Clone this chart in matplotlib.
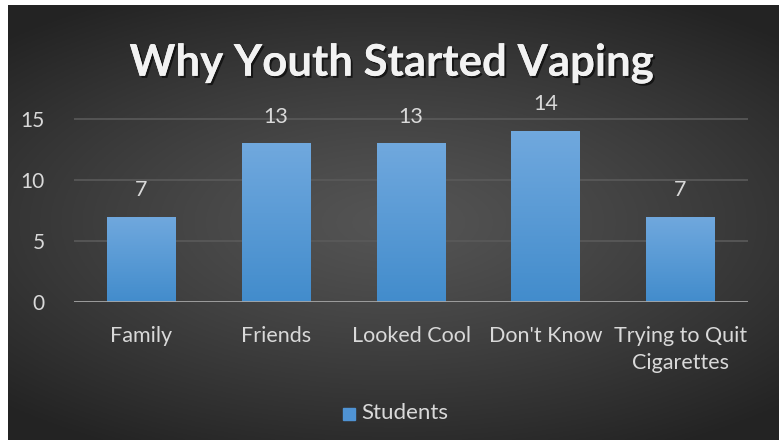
import numpy as np
import matplotlib
matplotlib.use('Agg')
import matplotlib.pyplot as plt
import matplotlib.patheffects as pe
from matplotlib.patches import Rectangle

# data
categories = ['Family', 'Friends', 'Looked Cool', "Don't Know", 'Trying to Quit\nCigarettes']
students = [7, 13, 13, 14, 7]
yticks = [0, 5, 10, 15]

plt.rcParams['font.family'] = ['Lato', 'DejaVu Sans']
txt_col = '#d9d9d9'

fig = plt.figure(figsize=(7.83, 4.45), dpi=100)
fig.patch.set_facecolor('white')

# dark radial gradient background
bg = fig.add_axes([8 / 783, 5 / 445, 770 / 783, 435 / 445])
bg.set_axis_off()
xx, yy = np.meshgrid(np.linspace(-1, 1, 400), np.linspace(-1, 1, 240))
r = np.clip(np.sqrt((xx * 0.9) ** 2 + (yy * 1.1) ** 2), 0, 1.3)
shade = 0.33 - 0.19 * (r / 1.3) ** 1.2
bg.imshow(np.dstack([shade] * 3), aspect='auto', extent=[0, 1, 0, 1])
bg.set_xlim(0, 1)
bg.set_ylim(0, 1)

ax = fig.add_axes([74 / 783, 1 - 302 / 445, 674 / 783, (302 - 102) / 445])
ax.patch.set_alpha(0)
x = np.arange(len(categories))
bars = ax.bar(x, students, width=0.51, color='#4f93d4', zorder=3)

# vertical gradient on each bar
grad = np.linspace(0, 1, 100).reshape(-1, 1)
top = np.array([0.44, 0.66, 0.87])
bot = np.array([0.26, 0.55, 0.80])
img = bot + (top - bot) * grad[..., None]
img = img.reshape(100, 1, 3)
for b in bars:
    x0, y0 = b.get_x(), b.get_y()
    w, h = b.get_width(), b.get_height()
    im = ax.imshow(img, extent=[x0, x0 + w, y0, y0 + h], origin='lower',
                   aspect='auto', zorder=4)
    im.set_clip_path(b)
    ax.text(x0 + w / 2, h + 2.2, str(int(h)), ha='center', va='center',
            color=txt_col, fontsize=15.5)

ax.set_xlim(-0.5, len(categories) - 0.5)
ax.set_ylim(0, 16.4)
ax.set_yticks(yticks)
ax.set_yticklabels([str(v) for v in yticks], color=txt_col, fontsize=15)
ax.set_xticks(x)
ax.set_xticklabels(categories, color=txt_col, fontsize=15.5, linespacing=1.45)
ax.tick_params(length=0, pad=17)
ax.tick_params(axis='y', pad=21)
for v in yticks[1:]:
    ax.axhline(v, color='#5a5a5a', lw=1.2, zorder=1)
for s in ax.spines.values():
    s.set_visible(False)
ax.axhline(0, color='#a6a6a6', lw=2, zorder=5)

fig.text(0.5, 1 - 63 / 445, 'Why Youth Started Vaping', ha='center', va='center',
         color='#f2f2f2', fontsize=31.5, fontweight='bold',
         path_effects=[pe.withSimplePatchShadow(offset=(1.5, -1.5), shadow_rgbFace='black', alpha=0.6),
                       pe.Normal()])

# legend
fig.patches.append(Rectangle((343 / 783, 1 - 420 / 445), 12 / 783, 12 / 445,
                             transform=fig.transFigure, color='#4f93d4', figure=fig))
fig.text(361 / 783, 1 - 413 / 445, 'Students', ha='left', va='center',
         color=txt_col, fontsize=16)

fig.savefig('out.png', dpi=100, facecolor=fig.get_facecolor())
